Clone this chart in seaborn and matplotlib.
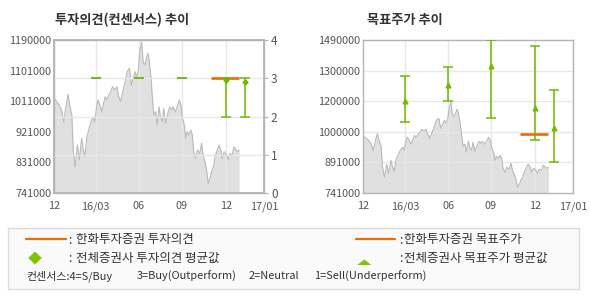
import numpy as np
import pandas as pd
import matplotlib
matplotlib.use("Agg")
import matplotlib.pyplot as plt
import seaborn as sns
from matplotlib.lines import Line2D
from matplotlib.patches import Rectangle, Polygon

# ---------------- data ----------------
# days since the first "12" tick (Dec 2015)
price_day = [0, 9, 16, 21, 26, 30, 34, 38, 41, 45, 50, 54, 59, 62, 66, 70, 75, 80, 84, 87,
             91, 94, 98, 102, 105, 109, 112, 119, 125, 130, 134, 137, 142, 146, 151, 156, 161, 165, 169, 173,
             176, 180, 183, 187, 190, 194, 200, 203, 207, 210, 213, 217, 220, 224, 227, 231, 234, 238, 242, 247,
             251, 254, 259, 264, 267, 271, 274, 278, 281, 284, 288, 292, 295, 298, 302, 306, 311, 315, 318, 322,
             326, 329, 333, 336, 340, 343, 347, 352, 356, 359, 363, 368, 372, 375, 380, 384, 388, 392, 395]
price = [1019000, 1004000, 984600, 950000, 999000, 1030700, 994000, 970000, 867000, 818000,
         882000, 838000, 901500, 872000, 847500, 906000, 931000, 955000, 965000, 950000,
         994000, 1014000, 999000, 979600, 999000, 1023600, 1014000, 1033600, 1053000, 1043000,
         1053000, 1028600, 1009000, 1033600, 1063000, 1097000, 1107000, 1058000, 1077600, 1097000,
         1082000, 1102000, 1155700, 1185000, 1126000, 1116700, 1151000, 1131000, 1077600, 1019000,
         970000, 979600, 940600, 994000, 965000, 950000, 989000, 945000, 970000, 994000,
         984600, 994000, 979600, 999000, 1014000, 999000, 960000, 940600, 901500, 921000,
         911000, 926000, 911000, 862000, 842700, 867000, 857500, 887000, 852500, 833000,
         803500, 769500, 784000, 803500, 818000, 842700, 862000, 882000, 867000, 842700,
         862000, 852500, 838000, 857500, 852500, 877000, 867000, 862000, 867000]

x_tick_day = [0, 89, 181, 272, 366, 448]
x_tick_labels = ["12", "16/03", "06", "09", "12", "17/01"]

# consensus opinion (4=S/Buy ... 1=Sell)
cons_day = [89, 181, 272, 366, 407]
cons_mean = [3.0, 3.0, 3.0, 2.96, 2.90]
cons_min = [3, 3, 3, 2, 2]
cons_max = [3, 3, 3, 3, 3]
hanwha_opinion = 3
hanwha_start, hanwha_end = 335, 394

# target price
tgt_mean = [1190300, 1269300, 1363000, 1155700, 1057000]
tgt_min = [1090000, 1193700, 1109600, 1001000, 892400]
tgt_max = [1312200, 1359600, 1488000, 1458400, 1243000]
hanwha_target = 1029000

left_ylim = (741000, 1190000)
left_ylabels = ["741000", "831000", "921000", "1011000", "1101000", "1190000"]
right_ylim = (741000, 1490000)
right_ylabels = ["741000", "891000", "1000000", "1200000", "1300000", "1490000"]

legend_row1 = ["한화투자증권 투자의견", "한화투자증권 목표주가"]
legend_row2 = ["전체증권사 투자의견 평균값", "전체증권사 목표주가 평균값"]
consensus_note = ["컨센서스:4=S/Buy", "3=Buy(Outperform)", "2=Neutral", "1=Sell(Underperform)"]

# ---------------- style ----------------
sns.set_theme(style="white")
plt.rcParams['font.family'] = ['Noto Sans CJK KR', 'DejaVu Sans']

GREEN = "#74b800"
ORANGE = "#f06c00"
GRID = "#e8e8e8"
SPINE = "#b4b4b4"
TICKC = "#555555"
FILL = "#e0e0e0"
LINE = "#bababa"

df = pd.DataFrame({"day": price_day, "price": price})

fig = plt.figure(figsize=(5.9, 3.0), dpi=100)
W, H = 590, 300
def fx(px): return px / W
def fy(py): return 1 - py / H

axL = fig.add_axes([fx(54), fy(193), 210 / W, 153 / H])
axR = fig.add_axes([fx(363.3), fy(193), 210 / W, 153 / H])

def style_axis(ax):
    for s in ax.spines.values():
        s.set_color(SPINE)
        s.set_linewidth(1.0)
    ax.set_xlim(x_tick_day[0], x_tick_day[-1])
    ax.set_xticks(x_tick_day)
    ax.set_xticklabels(x_tick_labels)
    ax.tick_params(axis='x', colors=SPINE, labelcolor=TICKC, labelsize=7.8,
                   length=3, width=0.8, direction='inout', pad=4.5)
    ax.tick_params(axis='y', colors=SPINE, labelcolor=TICKC, labelsize=7.8,
                   length=0, pad=2)
    ax.set_xlabel("")
    ax.set_ylabel("")

def draw_price(ax, ylim):
    ax.fill_between(df["day"], df["price"], ylim[0], color=FILL, lw=0, zorder=1)
    sns.lineplot(data=df, x="day", y="price", ax=ax, color=LINE, lw=0.8, zorder=2)
    ax.set_ylim(*ylim)

# ---------- left chart ----------
draw_price(axL, left_ylim)
style_axis(axL)
axL.set_yticks(np.linspace(left_ylim[0], left_ylim[1], 6))
axL.set_yticklabels(left_ylabels)
for d in x_tick_day[1:-1]:
    axL.axvline(d, color=GRID, lw=1.0, zorder=1.5)

axL2 = axL.twinx()
axL2.set_ylim(0, 4)
axL2.set_yticks([0, 1, 2, 3, 4])
axL2.set_yticklabels(["0", "1", "2", "3", "4"])
axL2.tick_params(axis='y', colors=SPINE, labelcolor=TICKC, labelsize=8.5, length=3,
                 width=0.8, direction='out', pad=2)
for s in axL2.spines.values():
    s.set_color(SPINE)
for v in [1, 2, 3]:
    axL2.axhline(v, color=GRID, lw=1.0, zorder=0.5)
axL2.set_xlim(x_tick_day[0], x_tick_day[-1])
cm = np.array(cons_mean)
yerr = [cm - np.array(cons_min), np.array(cons_max) - cm]
axL2.errorbar(cons_day, cons_mean, yerr=yerr, fmt='none', ecolor=GREEN, elinewidth=1.1,
              capsize=3.3, capthick=1.1, zorder=4)
axL2.plot(cons_day[3:], cons_mean[3:], ls='none', marker='P', ms=3.2, color=GREEN, zorder=5)
axL2.plot([hanwha_start, hanwha_end], [hanwha_opinion, hanwha_opinion], color=ORANGE, lw=1.9,
          solid_capstyle='butt', zorder=3)

# ---------- right chart ----------
draw_price(axR, right_ylim)
style_axis(axR)
rt = np.linspace(right_ylim[0], right_ylim[1], 6)
axR.set_yticks(rt)
axR.set_yticklabels(right_ylabels)
for d in x_tick_day[1:-1]:
    axR.axvline(d, color=GRID, lw=1.0, zorder=1.5)
for v in rt[1:-1]:
    axR.axhline(v, color=GRID, lw=1.0, zorder=1.5)
tm = np.array(tgt_mean)
yerr = [tm - np.array(tgt_min), np.array(tgt_max) - tm]
axR.errorbar(cons_day, tgt_mean, yerr=yerr, fmt='none', ecolor=GREEN, elinewidth=1.1,
             capsize=3.3, capthick=1.1, zorder=4)
axR.plot(cons_day, tgt_mean, ls='none', marker='^', ms=3.4, color=GREEN, zorder=5)
axR.plot([hanwha_start, hanwha_end], [hanwha_target, hanwha_target], color=ORANGE, lw=1.9,
         solid_capstyle='butt', zorder=3)

# ---------- titles ----------
fig.text(fx(55), fy(20), "투자의견(컨센서스) 추이", fontsize=9.5, fontweight='bold',
         color="#333333", va='center', ha='left')
fig.text(fx(367), fy(20), "목표주가 추이", fontsize=9.5, fontweight='bold',
         color="#333333", va='center', ha='left')

# ---------- legend box ----------
fig.add_artist(Rectangle((fx(8.3), fy(288.7)), 571 / W, 60.7 / H, transform=fig.transFigure,
                         facecolor="#fafafa", edgecolor="#dcdcdc", lw=1.0))
TXT = "#333333"
fs = 9.0
fig.add_artist(Line2D([fx(26), fx(65.7)], [fy(239.3), fy(239.3)], color=ORANGE, lw=1.6,
                      transform=fig.transFigure))
fig.text(fx(68.3), fy(240), ":", fontsize=fs, color=TXT, va='center')
fig.text(fx(76), fy(240), legend_row1[0], fontsize=fs, color=TXT, va='center')
fig.add_artist(Line2D([fx(356), fx(395)], [fy(238.7), fy(238.7)], color=ORANGE, lw=1.6,
                      transform=fig.transFigure))
fig.text(fx(399.3), fy(240), ":", fontsize=fs, color=TXT, va='center')
fig.text(fx(404), fy(240), legend_row1[1], fontsize=fs, color=TXT, va='center')

fig.add_artist(Polygon([(fx(28.3), fy(258)), (fx(35), fy(251.6)), (fx(41.7), fy(258)),
                        (fx(35), fy(264.4))], closed=True, transform=fig.transFigure,
                       facecolor="#7fc400", edgecolor='none'))
fig.text(fx(68.3), fy(258), ":", fontsize=fs, color=TXT, va='center')
fig.text(fx(76), fy(258), legend_row2[0], fontsize=fs, color=TXT, va='center')
fig.add_artist(Polygon([(fx(357.3), fy(265)), (fx(364.3), fy(259.5)), (fx(371.3), fy(265))],
                       closed=True, transform=fig.transFigure, facecolor="#7fc400",
                       edgecolor='none'))
fig.text(fx(399.3), fy(258), ":", fontsize=fs, color=TXT, va='center')
fig.text(fx(404), fy(258), legend_row2[1], fontsize=fs, color=TXT, va='center')

for xpos, t in zip([26.7, 137, 249, 313.6], consensus_note):
    fig.text(fx(xpos), fy(276), t, fontsize=7.9, color=TXT, va='center')

fig.savefig("out.png", dpi=100, facecolor="white")
